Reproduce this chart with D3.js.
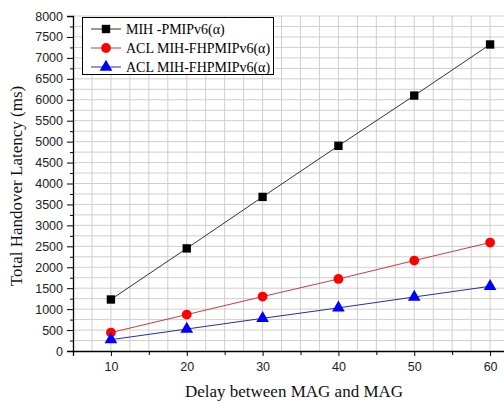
<!DOCTYPE html>
<html><head><meta charset="utf-8">
<script src="https://cdn.jsdelivr.net/npm/d3@7"></script>
<style>body{margin:0;background:#fff}svg{display:block}</style>
</head><body><svg id="c" width="504" height="403"></svg>
<script>
const delays = [10, 20, 30, 40, 50, 60];
const mihPmip = [1230, 2450, 3680, 4900, 6100, 7320];
const aclFhpmipRed = [440, 870, 1300, 1720, 2160, 2590];
const aclFhpmipBlue = [270, 525, 780, 1030, 1290, 1545];
const seriesNames = ["MIH -PMIPv6(\u03b1)", "ACL MIH-FHPMIPv6(\u03b1)", "ACL MIH-FHPMIPv6(\u03b1)"];
const xTicks = [10, 20, 30, 40, 50, 60];
const yTicks = [0,500,1000,1500,2000,2500,3000,3500,4000,4500,5000,5500,6000,6500,7000,7500,8000];

const svg = d3.select("#c");
const L = 73, B = 351, T = 16, R = 528;
const x = d3.scaleLinear().domain([5, 65]).range([L, R]);
const y = d3.scaleLinear().domain([0, 8000]).range([B, T]);

// grid
const gx = d3.range(5, 65.01, 2.5), gy = d3.range(0, 8000.1, 250);
svg.append("g").selectAll("line").data(gx.slice(1)).join("line")
  .attr("x1", d => x(d)).attr("x2", d => x(d)).attr("y1", T).attr("y2", B)
  .attr("stroke", "#cfcfcf").attr("stroke-width", 1);
svg.append("g").selectAll("line").data(gy.slice(1)).join("line")
  .attr("x1", L).attr("x2", 504).attr("y1", d => y(d)).attr("y2", d => y(d))
  .attr("stroke", "#cfcfcf").attr("stroke-width", 1);

// axes
svg.append("g").attr("transform", `translate(${L},0)`)
  .call(d3.axisLeft(y).tickValues(yTicks).tickSize(6).tickPadding(4).tickFormat(d3.format("d")));
svg.append("g").attr("transform", `translate(${L},0)`)
  .call(d3.axisLeft(y).tickValues(gy.filter(v => v % 500)).tickSize(3).tickFormat(""))
  .call(g => g.select(".domain").remove());
svg.append("g").attr("transform", `translate(0,${B})`)
  .call(d3.axisBottom(x).tickValues(xTicks).tickSize(5).tickPadding(6).tickFormat(d3.format("d")));
svg.append("g").attr("transform", `translate(0,${B})`)
  .call(d3.axisBottom(x).tickValues([5,15,25,35,45,55,65]).tickSize(4).tickFormat(""))
  .call(g => g.select(".domain").remove());
svg.selectAll(".domain").attr("stroke", "#000").attr("stroke-width", 1.3);
svg.selectAll(".tick line").attr("stroke", "#000");
svg.selectAll(".tick text").attr("font-family", "Liberation Sans, Arial, sans-serif")
  .attr("font-size", 12.5).attr("fill", "#222");

// titles
svg.append("text").attr("x", 294).attr("y", 397).attr("text-anchor", "middle")
  .attr("font-family", "Liberation Serif, Times New Roman, serif").attr("font-size", 17).attr("fill", "#111")
  .text("Delay between MAG and MAG");
svg.append("text").attr("transform", "translate(22,186) rotate(-90)").attr("text-anchor", "middle")
  .attr("font-family", "Liberation Serif, Times New Roman, serif").attr("font-size", 17).attr("fill", "#111")
  .text("Total Handover Latency (ms)");

// series
const series = [
  {vals: mihPmip, line: "#333", fill: "#000", shape: d3.symbolSquare, size: 70},
  {vals: aclFhpmipRed, line: "#c83c3c", fill: "#ff0000", shape: d3.symbolCircle, size: 75},
  {vals: aclFhpmipBlue, line: "#2a2aa8", fill: "#0000ff", shape: d3.symbolTriangle, size: 70}
];
const line = d3.line().x(d => x(d[0])).y(d => y(d[1]));
series.forEach((s, i) => {
  const pts = delays.map((d, j) => [d, s.vals[j]]);
  svg.append("path").datum(pts).attr("d", line).attr("fill", "none")
    .attr("stroke", s.line).attr("stroke-width", 1);
  svg.append("g").selectAll("path").data(pts).join("path")
    .attr("transform", d => `translate(${x(d[0])},${y(d[1])})`)
    .attr("d", d3.symbol(s.shape, s.size)).attr("fill", s.fill);
});

// legend
const lg = svg.append("g");
lg.append("rect").attr("x", 82.5).attr("y", 17.5).attr("width", 191).attr("height", 57)
  .attr("fill", "#fff").attr("stroke", "#000").attr("stroke-width", 1);
series.forEach((s, i) => {
  const yy = 29 + i * 19;
  lg.append("line").attr("x1", 91).attr("x2", 121).attr("y1", yy).attr("y2", yy)
    .attr("stroke", s.line).attr("stroke-width", 1);
  lg.append("path").attr("transform", `translate(106,${yy})`)
    .attr("d", d3.symbol(s.shape, s.size)).attr("fill", s.fill);
  lg.append("text").attr("x", 126).attr("y", yy + 5)
    .attr("font-family", "Liberation Serif, Times New Roman, serif").attr("font-size", 14)
    .text(seriesNames[i]);
});
</script></body></html>
